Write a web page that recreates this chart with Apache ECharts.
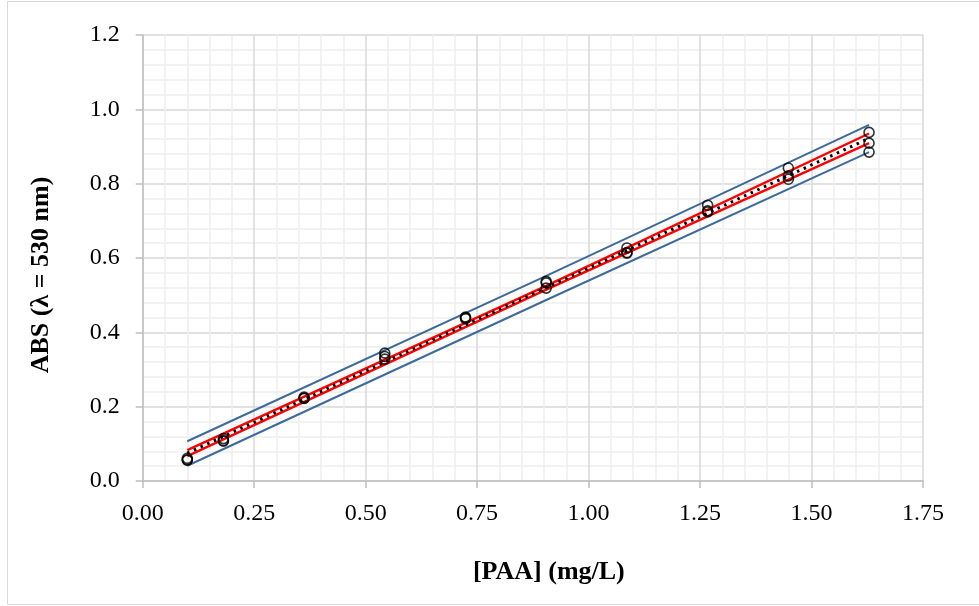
<!DOCTYPE html>
<html>
<head>
<meta charset="utf-8">
<script src="https://cdn.jsdelivr.net/npm/echarts@6/dist/echarts.min.js"></script>
<style>
html,body{margin:0;padding:0;background:#fff;}
#c{width:979px;height:606px;}
</style>
</head>
<body>
<div id="c"></div>
<script>
// PAA concentrations (mg/L)
var conc = [0.1, 0.181, 0.362, 0.543, 0.724, 0.905, 1.086, 1.267, 1.448, 1.629];
// Absorbance replicates
var rep1 = [0.061, 0.114, 0.226, 0.344, 0.441, 0.537, 0.627, 0.742, 0.842, 0.938];
var rep2 = [0.057, 0.109, 0.223, 0.335, 0.439, 0.533, 0.615, 0.727, 0.821, 0.909];
var rep3 = [0.056, 0.107, 0.222, 0.328, 0.437, 0.519, 0.613, 0.724, 0.812, 0.885];
// Lines read at x = 0.1, 0.905, 1.629
var lineX = [0.1, 0.905, 1.629];
var fitY = [0.075, 0.520, 0.922];
var ciUpper = [0.083, 0.525, 0.935];
var ciLower = [0.067, 0.515, 0.909];
var piUpper = [0.107, 0.552, 0.958];
var piLower = [0.041, 0.487, 0.885];
var xTicks = ['0.00','0.25','0.50','0.75','1.00','1.25','1.50','1.75'];
var yTicks = ['0.0','0.2','0.4','0.6','0.8','1.0','1.2'];

function pairs(xs, ys){ return xs.map(function(x,i){return [x, ys[i]];}); }
var pts = [];
[rep1, rep2, rep3].forEach(function(r){ pts = pts.concat(pairs(conc, r)); });

var FONT = '"Liberation Serif", "Times New Roman", serif';
var chart = echarts.init(document.getElementById('c'), null, {renderer:'canvas'});
function lineSeries(ys, color, width, type, z){
  return {type:'line', data:pairs(lineX, ys), showSymbol:false, symbol:'none', silent:true, z:z,
    lineStyle:{color:color, width:width, type:type}};
}
chart.setOption({
  animation:false,
  backgroundColor:'#fff',
  graphic:[{type:'rect', shape:{x:7.5, y:1.5, width:980, height:603}, style:{fill:'none', stroke:'#d9d9d9', lineWidth:1}, silent:true}],
  grid:{left:142.7, right:56, top:35, bottom:125},
  xAxis:{type:'value', min:0, max:1.75, interval:0.25,
    name:'[PAA] (mg/L)', nameLocation:'middle', nameGap:78,
    nameTextStyle:{fontFamily:FONT, fontSize:26, fontWeight:'bold', color:'#000', padding:[0,0,0,32]},
    axisLine:{show:true, onZero:false, lineStyle:{color:'#bfbfbf', width:1.5}},
    axisTick:{show:true, length:7, lineStyle:{color:'#bfbfbf', width:1.5}},
    axisLabel:{fontFamily:FONT, fontSize:24, color:'#000', margin:21,
      formatter:function(v){ return xTicks[Math.round(v/0.25)]; }},
    splitLine:{show:true, lineStyle:{color:'#d9d9d9', width:1.5}},
    minorTick:{show:false, splitNumber:5},
    minorSplitLine:{show:true, lineStyle:{color:'#eeeeee', width:1.5}}
  },
  yAxis:{type:'value', min:0, max:1.2, interval:0.2,
    name:'ABS (λ = 530 nm)', nameLocation:'middle', nameGap:88, nameRotate:90,
    nameTextStyle:{fontFamily:FONT, fontSize:26, fontWeight:'bold', color:'#000', padding:[0,34,0,0]},
    axisLine:{show:true, lineStyle:{color:'#bfbfbf', width:1.5}},
    axisTick:{show:true, length:7, lineStyle:{color:'#bfbfbf', width:1.5}},
    axisLabel:{fontFamily:FONT, fontSize:24, color:'#000', margin:23,
      formatter:function(v){ return yTicks[Math.round(v/0.2)]; }},
    splitLine:{show:true, lineStyle:{color:'#d9d9d9', width:1.5}},
    minorTick:{show:false, splitNumber:5},
    minorSplitLine:{show:true, lineStyle:{color:'#eeeeee', width:1.5}}
  },
  series:[
    lineSeries(piUpper, '#3e6a9a', 2, 'solid', 2),
    lineSeries(piLower, '#3e6a9a', 2, 'solid', 2),
    lineSeries(ciUpper, '#ff0000', 2.4, 'solid', 3),
    lineSeries(ciLower, '#ff0000', 2.4, 'solid', 3),
    lineSeries(fitY, '#000000', 3, [2.5,4.8], 4),
    {type:'scatter', data:pts, symbol:'circle', symbolSize:10, z:5,
      itemStyle:{color:'rgba(255,255,255,0)', borderColor:'#000', borderWidth:1.6}}
  ]
});
</script>
</body>
</html>
